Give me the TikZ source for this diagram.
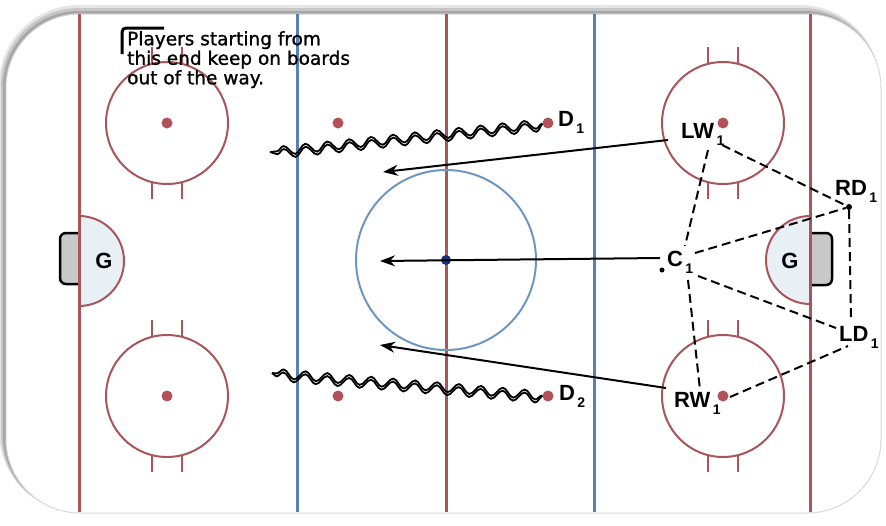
\documentclass[tikz,border=0pt]{standalone}
\usepackage{fontspec}
\setmainfont{Liberation Sans}
\newfontfamily\notefont[FakeBold=1.2]{DejaVu Sans}
\usetikzlibrary{decorations.pathmorphing,arrows.meta}
\definecolor{rinkred}{RGB}{168,86,92}
\definecolor{dotred}{RGB}{178,82,88}
\definecolor{rinkblue}{RGB}{88,128,176}
\definecolor{circblue}{RGB}{110,150,192}
\definecolor{centerdot}{RGB}{30,50,120}
\definecolor{creasefill}{RGB}{232,240,246}
\definecolor{netfill}{RGB}{200,200,200}
\newcommand\psub[1]{\raisebox{-7pt}{\fontsize{14}{14}\selectfont\,#1}}
\begin{document}
\begin{tikzpicture}[x=1pt,y=-1pt,
  redline/.style={draw=rinkred,line width=3},
  blueline/.style={draw=rinkblue,line width=3},
  fcircle/.style={draw=rinkred,line width=2},
  hashmark/.style={draw=rinkred,line width=2},
  spot/.style={circle,fill=dotred,inner sep=0,minimum size=11},
  plabel/.style={font=\bfseries\fontsize{22}{22}\selectfont,inner sep=0,anchor=base west},
  glabel/.style={font=\bfseries\fontsize{22}{22}\selectfont,inner sep=0},
  runarrow/.style={line width=2,-{Stealth[length=15pt,width=11pt]}},
  passline/.style={line width=2,dash pattern=on 9pt off 5pt},
  wave/.style={line width=1.8,decorate,decoration={snake,segment length=22pt,amplitude=4.5pt}},
  crease/.style={draw=rinkred,line width=2,fill=creasefill},
  net/.style={fill=netfill},
  netedge/.style={draw=black,line width=2.5,rounded corners=6}
]
\useasboundingbox (0,0) rectangle (886,525);
% rink boards with shadow
\fill[gray!20, rounded corners=80] (-1,5) rectangle (880,512);
\fill[gray!45, rounded corners=78] (1,8) rectangle (880,512);
\fill[gray!70, rounded corners=76] (3,11) rectangle (880,512);
\fill[white, rounded corners=74] (6,14) rectangle (881,513);
\draw[gray!30, line width=1, rounded corners=74] (6,14) rectangle (881,513);

% creases
\path[crease] (79,216) arc[start angle=-90,end angle=90,radius=45] -- cycle;
\path[crease] (810,216) arc[start angle=270,end angle=90,radius=44] -- cycle;

% nets
\fill[net] (79,233) -- (66,233) -- (60,240) -- (60,278) -- (66,284) -- (79,284) -- cycle;
\draw[netedge] (79,233) -- (60,233) -- (60,284) -- (79,284);
\fill[net] (810,233) -- (826,233) -- (832,240) -- (832,279) -- (826,285) -- (810,285) -- cycle;
\draw[netedge] (810,233) -- (832,233) -- (832,285) -- (810,285);

% lines
\draw[redline] (79,14) -- (79,512);
\draw[redline] (810,14) -- (810,512);
\draw[redline] (446,14) -- (446,512);
\draw[blueline] (297,14) -- (297,512);
\draw[blueline] (594,14) -- (594,512);

% faceoff circles
\foreach \cx/\cy in {167/123,167/396,723/123,723/396}{
  \draw[fcircle] (\cx,\cy) circle[radius=61];
  \draw[hashmark] (\cx-15,\cy-59) -- (\cx-15,\cy-76);
  \draw[hashmark] (\cx+15,\cy-59) -- (\cx+15,\cy-76);
  \draw[hashmark] (\cx-15,\cy+59) -- (\cx-15,\cy+76);
  \draw[hashmark] (\cx+15,\cy+59) -- (\cx+15,\cy+76);
}
\foreach \n/\cx/\cy in {s1/167/123,s2/167/396,s3/723/123,s4/723/396,s5/338/123,s6/548/123,s7/338/396,s8/548/396}{
  \node[spot] (\n) at (\cx,\cy) {};
}
% centre circle
\draw[draw=circblue,line width=2] (446,260) circle[radius=90];
\node[circle,fill=centerdot,inner sep=0,minimum size=10] (cdot) at (446,260) {};

% goalie labels
\node[glabel] (gl) at (104,261) {G};
\node[glabel] (gr) at (790,261) {G};

% note
\draw[line width=3, rounded corners=4] (122,54) -- (122,28) -- (164,28);
\node[anchor=north west,align=left,inner sep=0,
  font=\notefont\fontsize{18.5}{19.5}\selectfont] (note) at (127,31)
  {Players starting from\\this end keep on boards\\out of the way.};

% player labels
\node[plabel] (d1) at (558,126) {D\psub{1}};
\node[plabel] (d2) at (559,400) {D\psub{2}};
\node[plabel] (lw) at (681,138) {LW\psub{1}};
\node[plabel] (rd) at (835,195) {RD\psub{1}};
\node[plabel] (c1) at (667,266) {C\psub{1}};
\node[plabel] (ld) at (839,341) {LD\psub{1}};
\node[plabel] (rw) at (674,407) {RW\psub{1}};

% player dots
\node[circle,fill=black,inner sep=0,minimum size=6] (rddot) at (849,207) {};
\node[circle,fill=black,inner sep=0,minimum size=5] (cdot2) at (662,270) {};

% skating (wavy) lines
\coordinate (w1e) at (270,152);
\coordinate (w2e) at (272,373);
\draw[wave] (s6) -- (w1e);
\draw[wave,decoration={raise=3pt}] (s6) -- (w1e);
\draw[wave] (s8) -- (w2e);
\draw[wave,decoration={raise=3pt}] (s8) -- (w2e);

% run arrows
\coordinate (lwA) at (668,140);
\coordinate (lwT) at (383,172);
\coordinate (cA) at (660,258);
\coordinate (cT) at (380,261);
\coordinate (rwA) at (666,388);
\coordinate (rwT) at (380,345);
\draw[runarrow] (lwA) -- (lwT);
\draw[runarrow] (cA) -- (cT);
\draw[runarrow] (rwA) -- (rwT);

% passing pentagon
\coordinate (lwR) at (722,145);
\coordinate (lwD) at (708,150);
\coordinate (cU) at (685,246);
\coordinate (cR) at (695,253);
\coordinate (cL) at (698,276);
\coordinate (cD) at (688,280);
\coordinate (ldL) at (836,328);
\coordinate (ldB) at (848,346);
\coordinate (ldT) at (851,320);
\coordinate (rwU) at (700,390);
\coordinate (rwR) at (730,397);
\draw[passline] (lwR) -- (rddot);
\draw[passline] (lwD) -- (cU);
\draw[passline] (cR) -- (rddot);
\draw[passline] (cL) -- (ldL);
\draw[passline] (cD) -- (rwU);
\draw[passline] (rwR) -- (ldB);
\draw[passline] (rddot) -- (ldT);
\end{tikzpicture}
\end{document}
